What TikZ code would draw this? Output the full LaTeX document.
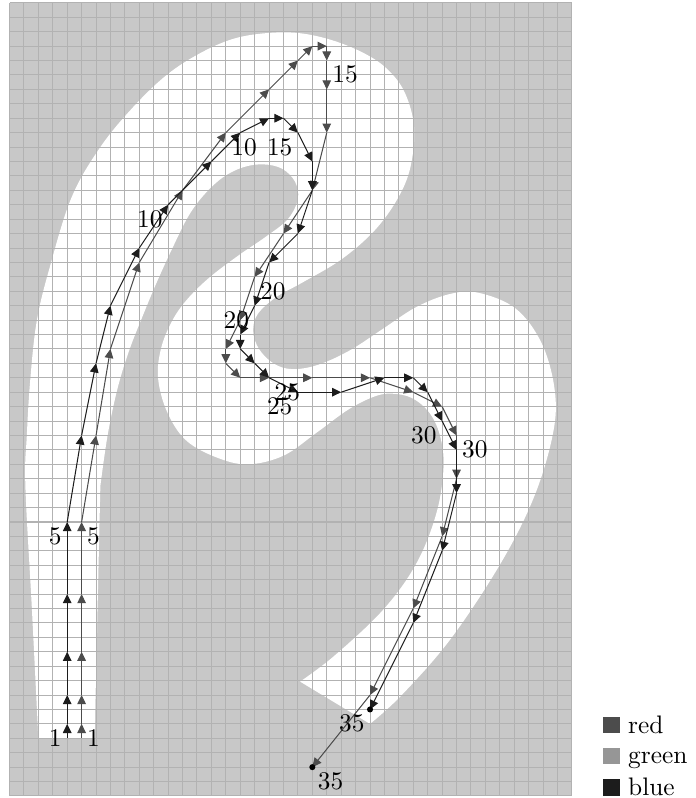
\documentclass[tikz,border=0pt]{standalone}
\usepackage{xcolor}
\usepackage{tikz}
\usetikzlibrary{arrows.meta}

\definecolor{wallgray}{gray}{0.785}
\definecolor{gridgray}{gray}{0.70}
\definecolor{redcar}{gray}{0.30}
\definecolor{greencar}{gray}{0.59}
\definecolor{bluecar}{gray}{0.11}

\begin{document}
\begin{tikzpicture}[x=0.2cm, y=0.2cm,
    move/.style={-{Triangle[length=3.6pt,width=3.4pt]}, line width=0.4pt},
    steplabel/.style={inner sep=2pt}]
    \useasboundingbox (-0.66,-0.14) rectangle (47.6,55.2);
    % walls and track
    \fill[wallgray] (0,0) rectangle (39,55);
    \fill[white] plot[smooth, tension=0.6] coordinates {(2,4) (1.55,13) (1.1,21.5) (1.2,25) (1.45,29)
        (1.9,33) (2.8,36.7) (4.3,41.5) (6.3,45) (8.6,47.8) (10.9,50) (13.2,51.5) (15.5,52.5)
        (17.8,52.9) (20.1,52.9) (22.4,52.4) (24.6,51.5) (26.2,50.4) (27.4,48.8) (28.05,46.4)
        (27.8,43.6) (26.9,41.4) (25.3,39.2) (23,37.2) (20.3,35.6) (18.5,34.6) (17.2,33.4)
        (16.9,32.2) (17.3,31) (18.3,30) (19.6,29.6) (21.4,29.9) (23.6,30.9) (25.9,32.4)
        (28.2,33.9) (30.5,34.8) (32.5,34.9) (35.1,33.8) (36.9,31.4) (37.8,28.2) (37.7,25.2)
        (36.4,20.8) (34.1,16.2) (30.6,10.9) (27.2,7) (25,5)}
      -- plot[smooth, tension=0.6] coordinates {(20.15,7.93) (22.5,9.7) (25.9,12.9) (28.2,16.1)
        (29.6,19.6) (30.1,22.8) (29.85,25) (29.1,26.6) (27.9,27.6) (26.5,27.9) (25.3,27.7)
        (23.5,26.8) (21.3,25.2) (19,23.6) (16.5,23) (14.3,23.5) (12.2,24.7) (10.9,26.7)
        (10.3,29) (10.5,31) (11.2,32.8) (12.2,34.3) (13.8,35.9) (15.9,37.5) (17.8,38.8)
        (19.3,40) (20,41.4) (19.8,42.6) (18.9,43.5) (17.6,43.8) (16.2,43.6) (14.8,42.9)
        (13.5,41.7) (12.4,40.2) (11.3,38) (10.2,35.6) (9.2,33.2) (8.3,30.9) (7.5,28.3)
        (6.8,25) (6.3,21.5)}
      -- (5.9,4) -- cycle;
    \draw[gridgray, line width=0.4pt, step=0.2cm] (0,0) grid (39,55);

    % red car
    \foreach \x/\y [count=\i from 0] in {5/4,5/5,5/7,5/10,5/14,5/19,6/25,7/31,
        9/37,12/42,15/46,18/49,20/51,21/52,22/52,22/51,22/49,22/46,21/42,
        19/39,17/36,16/33,15/31,15/30,16/29,18/29,21/29,25/29,28/28,30/27,
        31/25,31/22,30/18,28/13,25/7,21/2}
      \coordinate (r\i) at (\x,\y);
    \foreach \i in {1,...,35} {
      \pgfmathtruncatemacro\j{\i-1}
      \draw[move, redcar] (r\j) -- (r\i);
    }
    \fill[black] (r35) circle (1.2pt);

    % blue car
    \foreach \x/\y [count=\i from 0] in {4/4,4/5,4/7,4/10,4/14,4/19,5/25,6/30,
        7/34,9/38,11/41,14/44,16/46,18/47,19/47,20/46,21/44,21/42,20/39,
        18/37,17/34,16/32,16/31,17/30,18/29,20/28,23/28,26/29,28/29,29/28,
        30/26,31/24,31/21,30/17,28/12,25/6}
      \coordinate (b\i) at (\x,\y);
    \foreach \i in {1,...,35} {
      \pgfmathtruncatemacro\j{\i-1}
      \draw[move, bluecar] (b\j) -- (b\i);
    }
    \fill[black] (b35) circle (1.2pt);

    % step numbers
    \foreach \i in {1,5,10,15,20,25,30,35} {
      \node[steplabel, below right] (rl\i) at (r\i) {\i};
      \node[steplabel, below left] (bl\i) at (b\i) {\i};
    }

    % legend
    \node[anchor=base west, inner sep=0pt] (legred) at (41.15,4.35) {\textcolor{redcar}{\rule{1.5ex}{1.5ex}} red};
    \node[anchor=base west, inner sep=0pt] (leggreen) at (41.15,2.22) {\textcolor{greencar}{\rule{1.5ex}{1.5ex}} green};
    \node[anchor=base west, inner sep=0pt] (legblue) at (41.15,0.03) {\textcolor{bluecar}{\rule{1.5ex}{1.5ex}} blue};
\end{tikzpicture}
\end{document}
